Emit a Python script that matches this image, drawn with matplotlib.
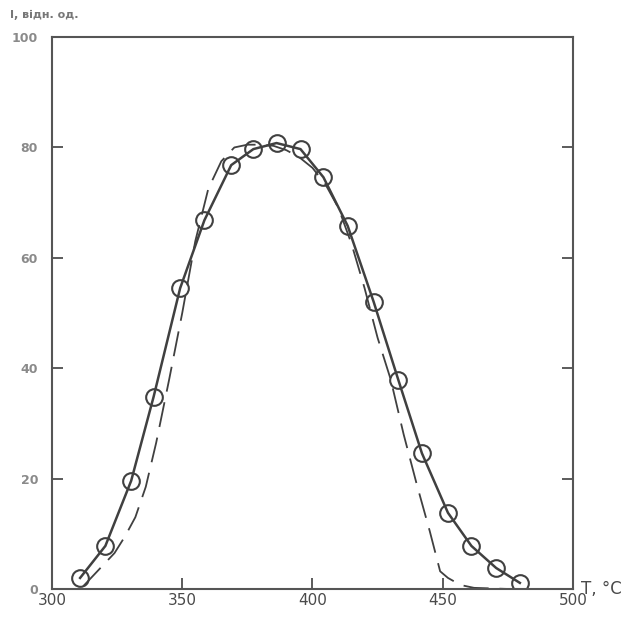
import numpy as np
import matplotlib.pyplot as plt

# experimental points (circles, solid line)
t_exp = [310.8, 320.5, 330.4, 339, 349.2, 358.5, 368.8, 377.3, 386.2, 395.4,
         404.2, 413.5, 423.5, 433, 442, 452, 461, 470.5, 479.6]
i_exp = [2.0, 7.8, 19.6, 34.8, 54.5, 66.8, 76.8, 79.7, 80.8, 79.7,
         74.6, 65.8, 52, 37.8, 24.6, 13.8, 7.8, 3.8, 1.1]

# calculated curve (dashed)
t_calc = [312, 316, 320, 324, 328, 332, 336, 340, 345, 350, 355, 360, 365, 370,
          375, 380, 385, 390, 395, 400, 405, 410, 415, 420, 425, 430, 435, 440,
          445, 449, 452, 455, 458, 462, 475]
i_calc = [0.5, 2.5, 4.5, 6.5, 9.5, 13, 18.5, 26.5, 38, 50, 63, 72.5, 77.5, 80,
          80.5, 80.5, 80.3, 79.5, 78.2, 76.3, 73.3, 69, 62.5, 54.5, 45.5, 38, 28, 19,
          10.5, 3.2, 2.0, 1.2, 0.6, 0.2, 0]

xticks = [300, 350, 400, 450, 500]
yticks = [0, 20, 40, 60, 80, 100]

ink = '#404040'

fig = plt.figure(figsize=(6.21, 6.18), dpi=100)
ax = fig.add_axes([0.0837, 0.047, 0.839, 0.893])

ax.plot(t_calc, i_calc, color=ink, lw=1.3, linestyle=(0, (14, 6)))
ax.plot(t_exp, i_exp, color=ink, lw=1.8, marker='o', ms=12,
        mfc='none', mec=ink, mew=1.5)

ax.set_xlim(300, 500)
ax.set_ylim(0, 100)
ax.set_xticks(xticks)
ax.set_yticks(yticks)
ax.tick_params(direction='in', length=8, width=1.2, color=ink,
               right=True, top=False)
ax.tick_params(axis='y', pad=10, labelsize=9, labelcolor='#8a8a8a')
ax.tick_params(axis='x', pad=3, labelsize=11, labelcolor='#4a4a4a')
for lbl in ax.get_yticklabels():
    lbl.set_fontweight('bold')
for s in ax.spines.values():
    s.set_color('#555555')
    s.set_linewidth(1.5)

fig.text(0.016, 0.975, 'I, відн. од.', fontsize=8, color='#777777', fontweight='bold',
         va='center', ha='left')
fig.text(0.935, 0.047, 'T, °C', fontsize=12, color='#4a4a4a', va='center', ha='left')

fig.savefig('out.png', dpi=100)
